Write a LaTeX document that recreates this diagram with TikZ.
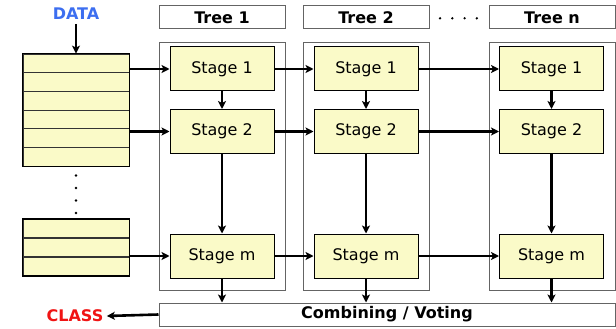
\documentclass[tikz,border=0pt]{standalone}
\usepackage{fontspec}
\setmainfont{DejaVu Sans}
\usetikzlibrary{arrows.meta}
\definecolor{stagefill}{RGB}{250,250,200}
\definecolor{boxgray}{RGB}{100,100,100}
\definecolor{datablue}{RGB}{60,110,240}
\definecolor{classred}{RGB}{240,20,20}
\begin{document}
\begin{tikzpicture}[x=1pt,y=-1pt,
  txt/.style={font=\fontsize{16}{18}\selectfont},
  btxt/.style={font=\bfseries\fontsize{16}{18}\selectfont},
  stagebox/.style={txt,draw=black,line width=1pt,fill=stagefill,minimum width=104pt,minimum height=44pt,inner sep=0pt},
  headbox/.style={btxt,draw=boxgray,line width=1pt,fill=white,minimum width=126pt,minimum height=23pt,inner sep=0pt},
  treebox/.style={draw=boxgray,line width=0.9pt,minimum width=126pt,minimum height=248pt,inner sep=0pt},
  rowbox/.style={draw=black!80,line width=0.8pt,fill=stagefill,minimum width=106pt,minimum height=18.67pt,inner sep=0pt},
  conn/.style={line width=2.6pt,-{Stealth[length=8pt,width=8pt,inset=2pt]}},
  dotmark/.style={circle,fill=black,inner sep=0pt,minimum size=2.6pt}
]
\useasboundingbox (0,0) rectangle (616,329);
% headers
\node[headbox] (h1) at (222,17.5) {Tree 1};
\node[headbox] (h2) at (366,17.5) {Tree 2};
\node[headbox] (hn) at (552,17.5) {Tree n};
\foreach \x/\k in {440/1,452.3/2,464.6/3,476.8/4}{
  \node[dotmark] (hd\k) at (\x,18.3) {};
}
% tree containers
\node[treebox] (t1) at (222,166) {};
\node[treebox] (t2) at (366,166) {};
\node[treebox] (tn) at (552,166) {};
% stages
\foreach \n/\x in {1/222,2/366,3/551.5}{
  \node[stagebox] (s\n a) at (\x,69) {Stage 1};
  \node[stagebox] (s\n b) at (\x,131.5) {Stage 2};
  \node[stagebox] (s\n m) at (\x,256) {Stage m};
}
% data stack
\foreach \i in {1,...,6}{
  \node[rowbox] (d\i) at (76,{54+18.67*(\i-0.5)}) {};
}
\draw[line width=1.6pt] (d1.north west) rectangle (d6.south east);
\foreach \i in {1,2,3}{
  \node[rowbox] (e\i) at (76,{219+19*(\i-0.5)}) {};
}
\draw[line width=1.6pt] (e1.north west) rectangle (e3.south east);
\foreach \y/\k in {175.5/1,188/2,200.5/3,213/4}{
  \node[dotmark] (vd\k) at (76,\y) {};
}
% combining box
\node[btxt,draw=boxgray,line width=1pt,fill=white,minimum width=456pt,minimum height=23pt,inner sep=0pt] (comb) at (387,314.5) {Combining / Voting};
% labels
\node[btxt,text=datablue] (data) at (76,14) {DATA};
\node[btxt,text=classred] (class) at (75,316) {CLASS};
\coordinate (dtop) at (76,24);
\draw[conn] (dtop) -- (d1.north);
\draw[conn] (comb.west) -- (class.east);
% horizontal arrows
\draw[conn] (s1a.west -| d1.east) -- (s1a.west);
\draw[conn] (s1b.west -| d1.east) -- (s1b.west);
\draw[conn] (s1m.west -| e1.east) -- (s1m.west);
\foreach \r in {a,b,m}{
  \draw[conn] (s1\r.east) -- (s2\r.west);
  \draw[conn] (s2\r.east) -- (s3\r.west);
}
% vertical arrows
\foreach \n in {1,2,3}{
  \draw[conn] (s\n a.south) -- (s\n b.north);
  \draw[conn] (s\n b.south) -- (s\n m.north);
  \draw[conn] (s\n m.south) -- (s\n m.south |- comb.north);
}
\end{tikzpicture}
\end{document}
